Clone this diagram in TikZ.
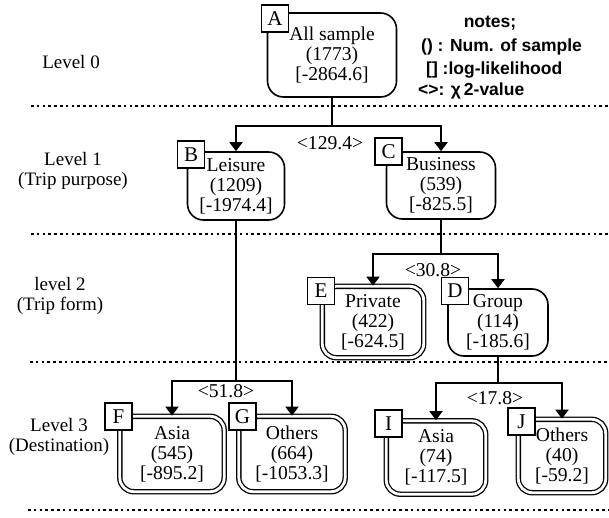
\documentclass[tikz,border=0pt]{standalone}
\usepackage{fontspec}
\setmainfont{Liberation Serif}
\newfontfamily\notesans{Liberation Sans}
\usetikzlibrary{arrows.meta}
\newcommand\mytxt{\fontsize{19}{20}\selectfont}
\newcommand\mybox{\fontsize{19.6}{20}\selectfont}
\newcommand\mylab{\fontsize{21}{21}\selectfont}
\newcommand\mynote{\notesans\bfseries\fontsize{17.5}{18}\selectfont}
\begin{document}
\begin{tikzpicture}[x=1pt,y=-1pt,
  box/.style={draw, line width=1.6pt, rounded corners=16pt, align=center, font=\mybox, inner sep=0pt},
  dbox/.style={box, line width=1.3pt, double, double distance=2.8pt, rounded corners=14pt},
  lab/.style={draw, fill=white, line width=1.4pt, minimum size=27pt, inner sep=0pt, font=\mylab},
  lvl/.style={align=center, font=\mytxt, inner sep=0pt},
  chi/.style={font=\mybox, inner sep=0pt},
  note/.style={font=\mynote, inner sep=0pt, anchor=west},
  conn/.style={line width=1.9pt},
  arr/.style={conn, -{Triangle[width=13pt,length=9pt]}},
  dots/.style={line width=2.6pt, dash pattern=on 2.6pt off 3.2pt}]
\useasboundingbox (0,0) rectangle (609,518);
\fill[white] (0,0) rectangle (609,518);

% level separators
\draw[dots] (31,106) -- (609,106);
\draw[dots] (31,234) -- (609,234);
\draw[dots] (30,362) -- (609,362);
\draw[dots] (28,510) -- (609,510);

% level labels
\node[lvl] (L0) at (71,62) {Level 0};
\node[lvl] (L1) at (73,171) {Level 1\\(Trip purpose)};
\node[lvl] (L2) at (60,296) {level 2\\(Trip form)};
\node[lvl] (L3) at (59,437) {Level 3\\(Destination)};

% notes
\node[note, anchor=center] (n0) at (490,23) {notes;};
\node[note] (n1) at (421,47) {() : Num. of sample};
\node[note] (n2) at (426,70) {[] :log-likelihood};
\node[note] (n3) at (418,91) {<>: χ\,2-value};

% boxes
\node[box, minimum width=129pt, minimum height=84pt] (A) at (332,55) {All sample\\(1773)\\{}[-2864.6]};
\node[box, minimum width=97pt, minimum height=68pt] (B) at (236,186) {Leisure\\(1209)\\{}[-1974.4]};
\node[box, minimum width=109pt, minimum height=67pt] (C) at (441,185.5) {Business\\(539)\\{}[-825.5]};
\node[box, minimum width=100pt, minimum height=67pt] (D) at (498,322.5) {Group\\(114)\\{}[-185.6]};
\node[dbox, minimum width=101.4pt, minimum height=71.4pt] (E) at (373,322) {Private\\(422)\\{}[-624.5]};
\node[dbox, minimum width=104.4pt, minimum height=75.4pt] (F) at (172,454) {Asia\\(545)\\{}[-895.2]};
\node[dbox, minimum width=106.4pt, minimum height=75.4pt] (G) at (292,454) {Others\\(664)\\{}[-1053.3]};
\node[dbox, minimum width=99.4pt, minimum height=73.4pt] (I) at (436,457.5) {Asia\\(74)\\{}[-117.5]};
\node[dbox, minimum width=87.4pt, minimum height=73.4pt] (J) at (562,456) {Others\\(40)\\{}[-59.2]};

% connectors
\coordinate (jA) at (332,126);
\draw[conn] (A.south) -- (jA);
\draw[arr] (jA) -| (B.north);
\draw[arr] (jA) -| (C.north);
\coordinate (jC) at (441,254);
\draw[conn] (C.south) -- (jC);
\draw[arr] (jC) -| (E.north);
\draw[arr] (jC) -| (D.north);
\coordinate (jB) at (236,381);
\draw[conn] (B.south) -- (jB);
\draw[arr] (jB) -| (F.north);
\draw[arr] (jB) -| (G.north);
\coordinate (jD) at (498,383);
\draw[conn] (D.south) -- (jD);
\draw[arr] (jD) -| (I.north);
\draw[arr] (jD) -| (J.north);

% chi-square values
\node[chi] (v1) at (330,143) {<129.4>};
\node[chi] (v2) at (433,270) {<30.8>};
\node[chi] (v3) at (226,391) {<51.8>};
\node[chi] (v4) at (495,398) {<17.8>};

% letter labels
\node[lab] (lA) at (275,18.5) {A};
\node[lab] (lB) at (191,154.5) {B};
\node[lab] (lC) at (388.5,151.5) {C};
\node[lab] (lD) at (455,291) {D};
\node[lab] (lE) at (321,291) {E};
\node[lab] (lF) at (118.5,416.5) {F};
\node[lab] (lG) at (242.5,416.5) {G};
\node[lab] (lI) at (388.5,423.5) {I};
\node[lab] (lJ) at (521.5,421.5) {J};
\end{tikzpicture}
\end{document}
